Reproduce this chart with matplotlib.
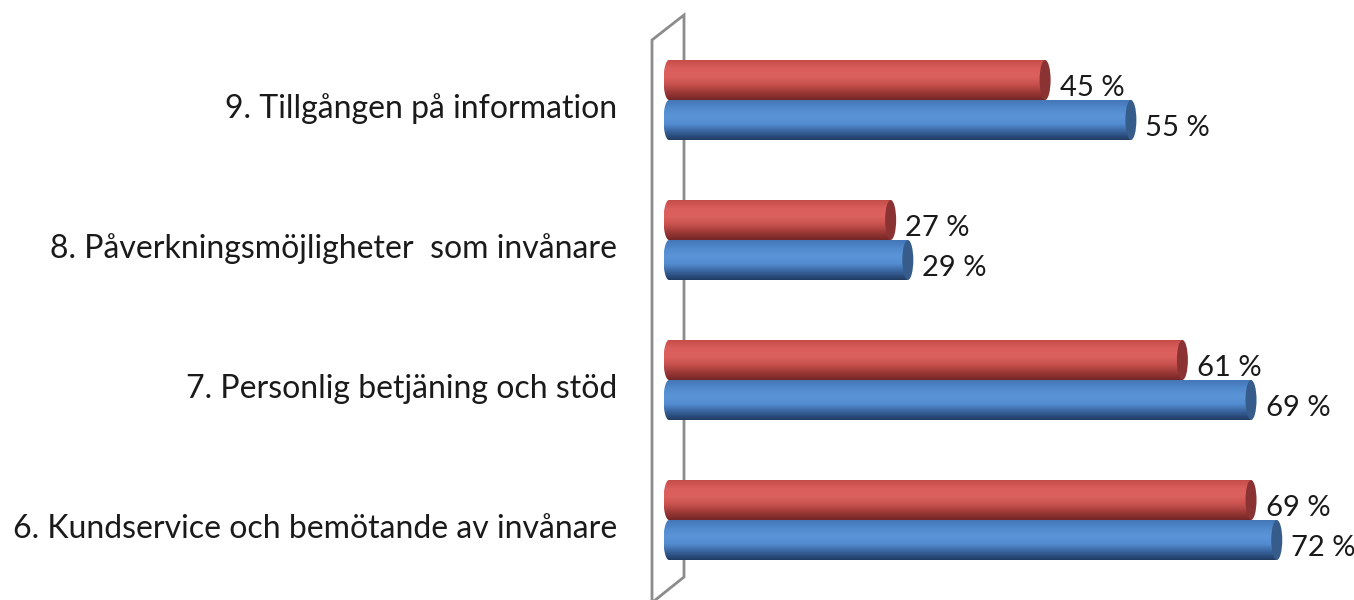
import numpy as np
import matplotlib.pyplot as plt
from matplotlib.patches import Polygon, Ellipse
from matplotlib.colors import LinearSegmentedColormap

# data (bottom to top)
categories = ["6. Kundservice och bemötande av invånare",
              "7. Personlig betjäning och stöd",
              "8. Påverkningsmöjligheter  som invånare",
              "9. Tillgången på information"]
red_vals = [69, 61, 27, 45]
blue_vals = [72, 69, 29, 55]

font = "Lato"
txt = "#1a1a1a"

fig = plt.figure(figsize=(13.54, 6.0), dpi=100)
ax = fig.add_axes([0, 0, 1, 1])
ax.axis('off')

# pixel layout: 0 % at x=659, 8.58 px per %, group step 140 px
px_per = 8.58
x0_px = 659
ax.set_xlim(-x0_px / px_per, (1354 - x0_px) / px_per)
ax.set_ylim(-80 / 140, 520 / 140)

bh = 40 / 140           # bar height
cap_w = 11 / px_per     # ellipse width of the cylinder ends
base = 10 / px_per      # where the cylinder starts (3d floor depth)

red_cmap = LinearSegmentedColormap.from_list(
    "r", ["#742626", "#9e3a38", "#c9524f", "#dc615e", "#da5e5b", "#c44d4a"])
blue_cmap = LinearSegmentedColormap.from_list(
    "b", ["#213c62", "#37619b", "#538cd0", "#5b95d8", "#5089cc", "#4477b8"])
grad = np.linspace(0, 1, 64).reshape(-1, 1)


def cylinder(v, yc, cmap, cap_col):
    y0, y1 = yc - bh / 2, yc + bh / 2
    t = np.linspace(np.pi / 2, 3 * np.pi / 2, 30)
    left = np.column_stack([base + cap_w / 2 * np.cos(t),
                            yc + bh / 2 * np.sin(t)])
    pts = np.vstack([[[v, y1]], left, [[v, y0]]])
    poly = Polygon(pts, closed=True, facecolor='none', edgecolor='none')
    ax.add_patch(poly)
    im = ax.imshow(grad, cmap=cmap, extent=(base - cap_w / 2, v, y0, y1),
                   origin='lower', aspect='auto', zorder=3)
    im.set_clip_path(poly)
    ax.add_patch(Ellipse((v, yc), cap_w, bh, facecolor=cap_col,
                         edgecolor='none', zorder=4))


ypos = np.arange(len(categories))
lab_dx = 14.5 / px_per
lab_dy = 16 / 140
for i, (r, b) in enumerate(zip(red_vals, blue_vals)):
    yr = ypos[i] + bh / 2
    yb = ypos[i] - bh / 2
    cylinder(r, yr, red_cmap, "#8a3332")
    cylinder(b, yb, blue_cmap, "#365c8c")
    ax.text(r + lab_dx, yr - lab_dy, f"{r} %", fontsize=21, family=font,
            color=txt, va='baseline', ha='left')
    ax.text(b + lab_dx, yb - lab_dy, f"{b} %", fontsize=21, family=font,
            color=txt, va='baseline', ha='left')
    ax.text((617 - x0_px) / px_per, ypos[i] - 18 / 140, categories[i],
            fontsize=23, family=font, color=txt, va='baseline', ha='right')


# 3D back wall outline
def px(x, y):
    return ((x - x0_px) / px_per, (520 - y) / 140)


wall = [px(652, 605), px(652, 40), px(684, 15), px(684, 577), px(654, 601)]
wx, wy = zip(*wall)
ax.plot(wx, wy, color="#8c8c8c", lw=2, zorder=1, solid_joinstyle='miter')

fig.savefig("out.png", dpi=100)
